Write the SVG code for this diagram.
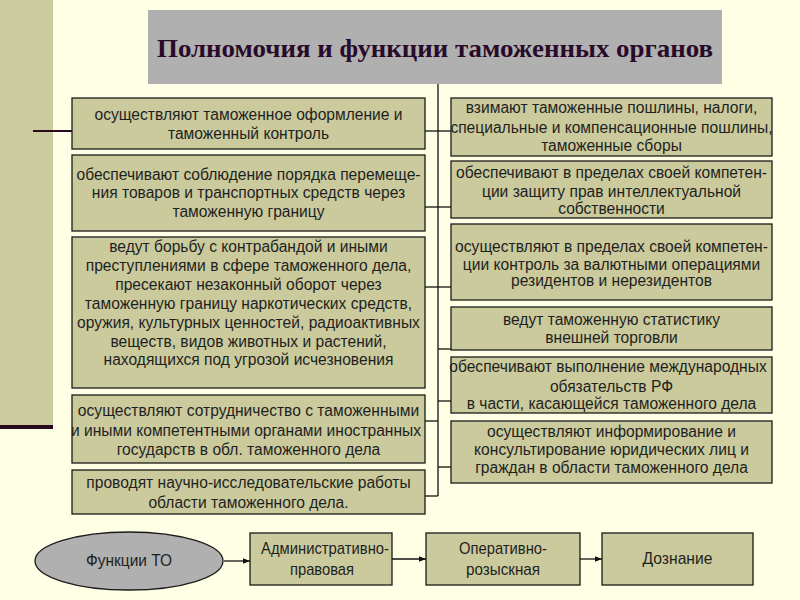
<svg xmlns="http://www.w3.org/2000/svg" width="800" height="600" viewBox="0 0 800 600">
<defs>
<style>
.bg{fill:#ffffe6}
.band{fill:#cbcb9d}
.box{fill:#caca9c;stroke:#1a1a1a;stroke-width:1.3}
.title{fill:#b0b0b0}
.t{font-family:"Liberation Sans",Arial,sans-serif;font-size:15.6px;fill:#1f1f1f;text-anchor:middle}
.b{font-family:"Liberation Sans",Arial,sans-serif;font-size:17px;fill:#1f1f1f;text-anchor:middle}
.h{font-family:"Liberation Serif","Times New Roman",serif;font-size:25px;font-weight:bold;fill:#2a0a2a;text-anchor:middle}
.c{fill:none;stroke:#111;stroke-width:1.3}
.a{fill:none;stroke:#111;stroke-width:1.3;marker-end:url(#ar)}
</style>
<marker id="ar" viewBox="0 0 10 10" refX="10" refY="5" markerWidth="7" markerHeight="7" markerUnits="userSpaceOnUse" orient="auto">
<path d="M0 1 L10 5 L0 9 Z" fill="#111"/>
</marker>
</defs>
<rect class="bg" x="0" y="0" width="800" height="600"/>
<rect class="band" x="0" y="0" width="53" height="425"/>
<line x1="0" y1="427" x2="53" y2="427" stroke="#2a0a1f" stroke-width="4"/>
<line x1="33" y1="131" x2="72" y2="131" stroke="#2a0a1f" stroke-width="2"/>

<g id="title">
<rect class="title" x="148" y="10" width="574" height="74"/>
<text class="h" x="435" y="57" textLength="556" lengthAdjust="spacingAndGlyphs">Полномочия и функции таможенных органов</text>
</g>

<g id="connectors">
<path class="c" d="M438 84 V496"/>
<path class="c" d="M425 131 H451" stroke-width="2"/>
<path class="c" d="M425 207 H451"/>
<path class="c" d="M425 287 H451"/>
<path class="c" d="M438 349 H451"/>
<path class="c" d="M438 401 H451"/>
<path class="c" d="M425 421 H438"/>
<path class="c" d="M438 467 H451"/>
<path class="c" d="M425 496 H438"/>
<path class="a" d="M224 561 H250"/>
<path class="a" d="M392 559 H426"/>
<path class="a" d="M580 559 H602"/>
</g>

<g id="l1">
<rect class="box" x="72" y="98" width="353" height="51"/>
<text class="t" x="248.5" y="120">осуществляют таможенное оформление и</text>
<text class="t" x="248.5" y="139">таможенный контроль</text>
</g>
<g id="l2">
<rect class="box" x="72" y="155" width="353" height="76"/>
<text class="t" x="248.5" y="180">обеспечивают соблюдение порядка перемеще-</text>
<text class="t" x="248.5" y="198">ния товаров и транспортных средств через</text>
<text class="t" x="248.5" y="217">таможенную границу</text>
</g>
<g id="l3">
<rect class="box" x="72" y="237" width="353" height="151"/>
<text class="t" x="248.5" y="252">ведут борьбу с контрабандой и иными</text>
<text class="t" x="248.5" y="271">преступлениями в сфере таможенного дела,</text>
<text class="t" x="248.5" y="290">пресекают незаконный оборот через</text>
<text class="t" x="248.5" y="309">таможенную границу наркотических средств,</text>
<text class="t" x="248.5" y="328">оружия, культурных ценностей, радиоактивных</text>
<text class="t" x="248.5" y="347">веществ, видов животных и растений,</text>
<text class="t" x="248.5" y="365">находящихся под угрозой исчезновения</text>
</g>
<g id="l4">
<rect class="box" x="72" y="395" width="353" height="68"/>
<text class="t" x="248.5" y="416">осуществляют сотрудничество с таможенными</text>
<text class="t" x="246" y="436">и иными компетентными органами иностранных</text>
<text class="t" x="248.5" y="455">государств в обл.  таможенного дела</text>
</g>
<g id="l5">
<rect class="box" x="72" y="470" width="353" height="44"/>
<text class="t" x="248.5" y="488">проводят научно-исследовательские работы</text>
<text class="t" x="248.5" y="508">области таможенного дела.</text>
</g>

<g id="r1">
<rect class="box" x="451" y="98" width="321" height="58"/>
<text class="t" x="611.5" y="113">взимают таможенные пошлины,  налоги,</text>
<text class="t" x="611.5" y="133">специальные и компенсационные пошлины,</text>
<text class="t" x="611.5" y="151">таможенные сборы</text>
</g>
<g id="r2">
<rect class="box" x="451" y="161" width="321" height="57"/>
<text class="t" x="611.5" y="178">обеспечивают в пределах своей компетен-</text>
<text class="t" x="611.5" y="197">ции защиту прав интеллектуальной</text>
<text class="t" x="611.5" y="214">собственности</text>
</g>
<g id="r3">
<rect class="box" x="451" y="224" width="321" height="76"/>
<text class="t" x="611.5" y="252">осуществляют в пределах своей компетен-</text>
<text class="t" x="611.5" y="270">ции контроль за валютными операциями</text>
<text class="t" x="611.5" y="286">резидентов и нерезидентов</text>
</g>
<g id="r4">
<rect class="box" x="451" y="307" width="321" height="43"/>
<text class="t" x="611.5" y="325">ведут таможенную статистику</text>
<text class="t" x="611.5" y="343">внешней торговли</text>
</g>
<g id="r5">
<rect class="box" x="451" y="357" width="321" height="56"/>
<text class="t" x="608" y="372">обеспечивают выполнение международных</text>
<text class="t" x="611.5" y="392">обязательств РФ</text>
<text class="t" x="611.5" y="409">в части, касающейся таможенного дела</text>
</g>
<g id="r6">
<rect class="box" x="451" y="421" width="321" height="62"/>
<text class="t" x="611.5" y="437">осуществляют информирование и</text>
<text class="t" x="611.5" y="455">консультирование юридических лиц и</text>
<text class="t" x="611.5" y="473">граждан в области таможенного дела</text>
</g>

<g id="f0">
<ellipse cx="129" cy="561" rx="94" ry="29" fill="#b0b0b0" stroke="#1a1a1a" stroke-width="1.3"/>
<text class="b" x="129" y="566" textLength="86" lengthAdjust="spacingAndGlyphs">Функции  ТО</text>
</g>
<g id="f1">
<rect class="box" x="250" y="533" width="142" height="52"/>
<text class="b" x="325" y="554" textLength="128" lengthAdjust="spacingAndGlyphs">Административно-</text>
<text class="b" x="322" y="575" textLength="64" lengthAdjust="spacingAndGlyphs">правовая</text>
</g>
<g id="f2">
<rect class="box" x="426" y="533" width="154" height="52"/>
<text class="b" x="503" y="554" textLength="88" lengthAdjust="spacingAndGlyphs">Оперативно-</text>
<text class="b" x="503" y="575" textLength="74" lengthAdjust="spacingAndGlyphs">розыскная</text>
</g>
<g id="f3">
<rect class="box" x="602" y="533" width="151" height="52"/>
<text class="b" x="677.5" y="564" textLength="70" lengthAdjust="spacingAndGlyphs">Дознание</text>
</g>
</svg>
